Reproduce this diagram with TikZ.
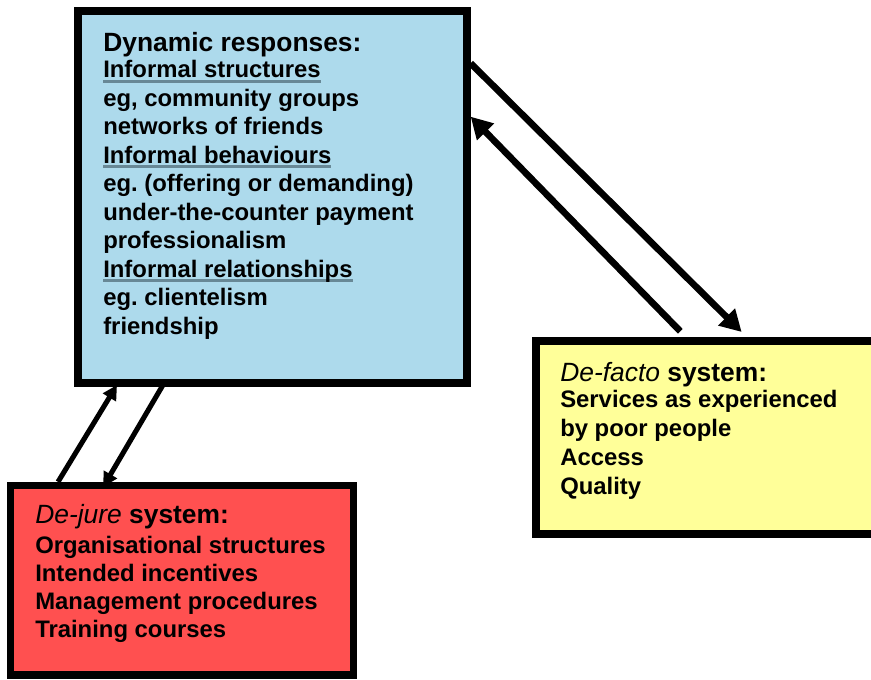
\documentclass[tikz,border=0pt]{standalone}
\usepackage{fontspec}
\setmainfont{Liberation Sans}
\usepackage{xcolor}
\usetikzlibrary{arrows.meta}
\frenchspacing

\definecolor{dynblue}{RGB}{173,218,236}
\definecolor{jurered}{RGB}{255,80,80}
\definecolor{factoyellow}{RGB}{255,255,153}
\definecolor{ulgray}{RGB}{104,136,150}

% underlined sub-heading, rule in grey-blue
\newcommand{\ulined}[1]{\setbox0\hbox{#1}\rlap{\color{ulgray}\rule[-3.4pt]{\wd0}{1.9pt}}\box0}

\tikzset{
  sysbox/.style={draw=black, line width=5.5pt, inner sep=0pt},
  boxhead/.style={anchor=base west, inner sep=0pt, font=\fontsize{19.8}{24}\selectfont\bfseries},
  boxline/.style={anchor=base west, inner sep=0pt, font=\fontsize{17.9}{21.5}\selectfont\bfseries},
  bigarrow/.style={line width=5pt, -{Triangle[length=16pt,width=17pt]}},
  smallarrow/.style={line width=3.8pt, -{Triangle[length=11pt,width=11pt]}}
}

\begin{document}
\begin{tikzpicture}[x=0.75pt,y=-0.75pt]
\useasboundingbox (0,0) rectangle (871,680);

% the three boxes
\node[sysbox, fill=dynblue, minimum width=291.75pt, minimum height=279pt] (dyn) at (272.5,197) {};
\node[sysbox, fill=factoyellow, minimum width=258pt, minimum height=144.75pt] (facto) at (708,437.5) {};
\node[sysbox, fill=jurered, minimum width=257.25pt, minimum height=142.1pt] (jure) at (182,580.25) {};

% dynamic responses
\node[boxhead] (dyn-head) at (103,52) {Dynamic responses:};
\foreach \txt [count=\i] in {\ulined{Informal structures}, {eg, community groups},
    networks of friends, \ulined{Informal behaviours}, eg. (offering or demanding),
    under-the-counter payment, professionalism, \ulined{Informal relationships},
    eg. clientelism, friendship}
  \node[boxline] (dyn-\i) at (103,{78+28.5*(\i-1)}) {\txt};

% de-facto system
\node[boxhead] (facto-head) at (560,382) {{\mdseries\itshape De-facto} system:};
\foreach \txt [count=\i] in {Services as experienced, by poor people, Access, Quality}
  \node[boxline] (facto-\i) at (560,{408+28.7*(\i-1)}) {\txt};

% de-jure system
\node[boxhead] (jure-head) at (35,524) {{\mdseries\itshape De-jure} system:};
\foreach \txt [count=\i] in {Organisational structures, Intended incentives,
    Management procedures, Training courses}
  \node[boxline] (jure-\i) at (35,{553+28.3*(\i-1)}) {\txt};

% arrows between the systems
\draw[bigarrow] ([yshift=-42pt]dyn.north east) -- ([xshift=157pt,yshift=4pt]facto.north west);
\draw[bigarrow] ([xshift=111pt,yshift=4.5pt]facto.north west) -- ([yshift=-82pt]dyn.north east);
\draw[smallarrow] ([xshift=38.4pt]jure.north west) -- ([xshift=32pt,yshift=1.3pt]dyn.south west);
\draw[smallarrow] ([xshift=66.5pt,yshift=1.3pt]dyn.south west) -- ([xshift=72.2pt,yshift=-3.9pt]jure.north west);
\end{tikzpicture}
\end{document}
